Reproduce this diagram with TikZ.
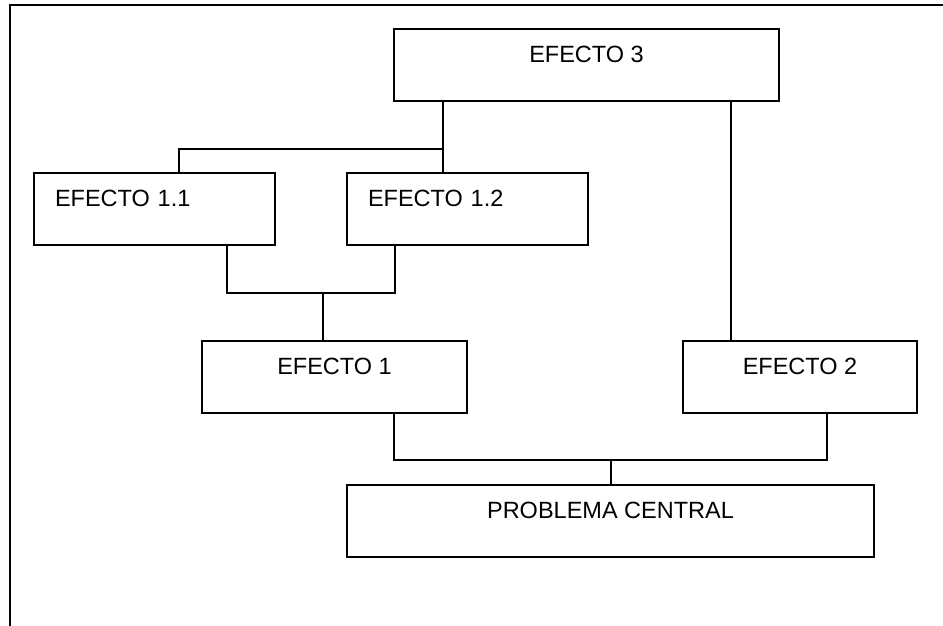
\documentclass[tikz,border=0pt]{standalone}
\usepackage{fontspec}
\setmainfont{Liberation Sans}
\begin{document}
\begin{tikzpicture}[x=1pt,y=-1pt,line width=1.8pt,
  box/.style={draw, rectangle, inner xsep=0pt, inner ysep=0pt, minimum height=72pt,
    font=\fontsize{23.5}{28}\selectfont, text height=16.8pt, text depth=21pt},
  lbox/.style={box, inner xsep=21pt, align=left},
  conn/.style={draw, line width=1.8pt}]
\useasboundingbox (0,0) rectangle (943,626);
\draw (10,626) -- (10,5) -- (943,5);
\node[box, minimum width=385pt] (e3) at (586.5,65) {EFECTO 3};
\node[lbox, text width=199pt] (e11) at (154.5,209) {EFECTO 1.1};
\node[lbox, text width=199pt] (e12) at (467.5,209) {EFECTO 1.2};
\node[box, minimum width=265pt] (e1) at (334.5,377) {EFECTO 1};
\node[box, minimum width=234pt] (e2) at (800,377) {EFECTO 2};
\node[box, minimum width=527pt] (pc) at (610.5,521) {PROBLEMA CENTRAL};
\coordinate (j3) at (443,149);
\coordinate (t11) at (179,149);
\coordinate (j1l) at (227,293);
\coordinate (j1r) at (395,293);
\coordinate (j1) at (323,293);
\coordinate (x2) at (731,0);
\coordinate (jl) at (394,460);
\coordinate (jr) at (827,460);
\coordinate (jp) at (611,460);
\draw[conn] (e3.south -| j3) -- (j3) -- (e12.north -| j3);
\draw[conn] (j3) -- (t11) -- (e11.north -| t11);
\draw[conn] (e11.south -| j1l) -- (j1l) -- (j1r) -- (e12.south -| j1r);
\draw[conn] (j1) -- (e1.north -| j1);
\draw[conn] (e3.south -| x2) -- (e2.north -| x2);
\draw[conn] (e1.south -| jl) -- (jl) -- (jr) -- (e2.south -| jr);
\draw[conn] (jp) -- (pc.north -| jp);
\end{tikzpicture}
\end{document}
